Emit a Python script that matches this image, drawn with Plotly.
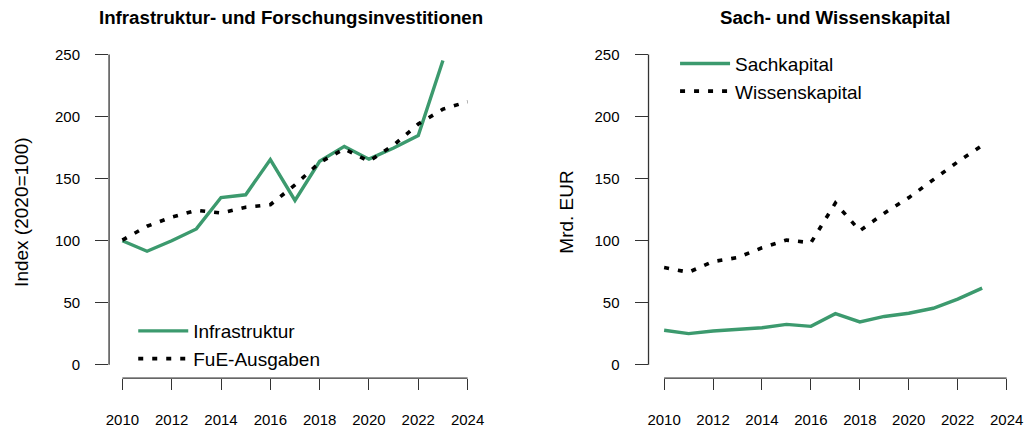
import plotly.graph_objects as go

# ---------------- data ----------------
years_a = list(range(2010, 2024))
years_fue = list(range(2010, 2025))
infrastruktur = [100, 91.5, 100, 109.5, 134.8, 137, 165.4, 132.4, 164, 176, 165.7, 174.7, 184.8, 245.2]
fue_ausgaben = [100.5, 111.7, 119, 124.5, 122.3, 127, 129, 145, 163, 174, 164, 177, 194, 206, 212]

years_b = list(range(2010, 2024))
sachkapital = [27.9, 25.2, 27.3, 28.3, 29.9, 32.6, 31, 41.2, 34.6, 39, 41.6, 45.6, 53, 61.8]
wissenskapital = [78.4, 74.6, 83.2, 86.4, 94.3, 100.5, 98.4, 130.3, 108, 122.2, 134.7, 149.5, 163.5, 176.8]

x_ticks = [2010, 2012, 2014, 2016, 2018, 2020, 2022, 2024]
y_ticks = [0, 50, 100, 150, 200, 250]
titles = ["Infrastruktur- und Forschungsinvestitionen", "Sach- und Wissenskapital"]
y_titles = ["Index (2020=100)", "Mrd. EUR"]

# ---------------- style ----------------
W, H = 1029, 428
FONT = "Liberation Sans, Arial, sans-serif"
GREEN = "#3C9A6E"
AX = "#333333"
DASH = "5px,9px"

def px_x(p):
    return p / W

def px_y(p):
    return 1 - p / H

fig = go.Figure()

fig.add_trace(go.Scatter(x=years_a, y=infrastruktur, mode="lines", name="Infrastruktur",
                         line=dict(color=GREEN, width=3.4), xaxis="x", yaxis="y", legend="legend", cliponaxis=False))
fig.add_trace(go.Scatter(x=years_fue, y=fue_ausgaben, mode="lines", name="FuE-Ausgaben",
                         line=dict(color="black", width=3.6, dash=DASH), xaxis="x", yaxis="y", legend="legend", cliponaxis=False))
fig.add_trace(go.Scatter(x=years_b, y=sachkapital, mode="lines", name="Sachkapital",
                         line=dict(color=GREEN, width=3.4), xaxis="x2", yaxis="y2", legend="legend2", cliponaxis=False))
fig.add_trace(go.Scatter(x=years_b, y=wissenskapital, mode="lines", name="Wissenskapital",
                         line=dict(color="black", width=3.6, dash=DASH), xaxis="x2", yaxis="y2", legend="legend2", cliponaxis=False))

ydom = [px_y(381.7), px_y(42.5)]
yrange = [-10.7, 260.0]

common_x = dict(tickvals=x_ticks, ticks="outside", ticklen=11, tickwidth=1, tickcolor=AX,
                showgrid=False, zeroline=False, showline=False,
                tickfont=dict(family=FONT, size=15, color="black"), ticklabelstandoff=17)
common_y = dict(tickvals=y_ticks, ticks="outside", ticklen=13, tickwidth=1, tickcolor=AX,
                showgrid=False, zeroline=False, showline=False, range=yrange, domain=ydom,
                tickfont=dict(family=FONT, size=15, color="black"), ticklabelstandoff=12)

legend_common = dict(xanchor="left", yanchor="top", bgcolor="rgba(0,0,0,0)",
                     font=dict(family=FONT, size=19, color="black"), tracegroupgap=0, itemwidth=50)

fig.update_layout(
    width=W, height=H, margin=dict(l=0, r=0, t=0, b=0),
    paper_bgcolor="white", plot_bgcolor="white",
    font=dict(family=FONT, color="black"),
    xaxis=dict(domain=[px_x(106.7), px_x(480.7)], range=[2009.46, 2024.54], anchor="y", **common_x),
    yaxis=dict(anchor="x", **common_y),
    xaxis2=dict(domain=[px_x(649.3), px_x(1023.3)], range=[2009.362, 2024.56], anchor="y2", **common_x),
    yaxis2=dict(anchor="x2", **common_y),
    legend=dict(x=px_x(131), y=px_y(315), **legend_common),
    legend2=dict(x=px_x(676), y=px_y(45), **legend_common),
    showlegend=True,
)

# axis lines spanning first to last tick (base-R style)
for xr, yr in (("x", "y"), ("x2", "y2")):
    fig.add_shape(type="line", xref=xr, yref=f"{yr} domain", x0=x_ticks[0], x1=x_ticks[-1], y0=0, y1=0,
                  line=dict(color=AX, width=1.3))
    fig.add_shape(type="line", xref=f"{xr} domain", yref=yr, x0=0, x1=0, y0=y_ticks[0], y1=y_ticks[-1],
                  line=dict(color=AX, width=1.3))

# panel titles
for xpos, t in ((290, titles[0]), (837, titles[1])):
    fig.add_annotation(text=f"<b>{t}</b>", xref="paper", yref="paper", x=px_x(xpos), y=px_y(18),
                       xanchor="center", yanchor="middle", showarrow=False,
                       font=dict(family=FONT, size=18.7, color="black"))

# y-axis titles
for xpos, t in ((18, y_titles[0]), (566, y_titles[1])):
    fig.add_annotation(text=t, xref="paper", yref="paper", x=px_x(xpos), y=px_y(214), textangle=-90,
                       xanchor="center", yanchor="middle", showarrow=False,
                       font=dict(family=FONT, size=19, color="black"))

fig.write_html("out.html", post_script="document.body.style.margin='0px';",
               config={"displayModeBar": False})
